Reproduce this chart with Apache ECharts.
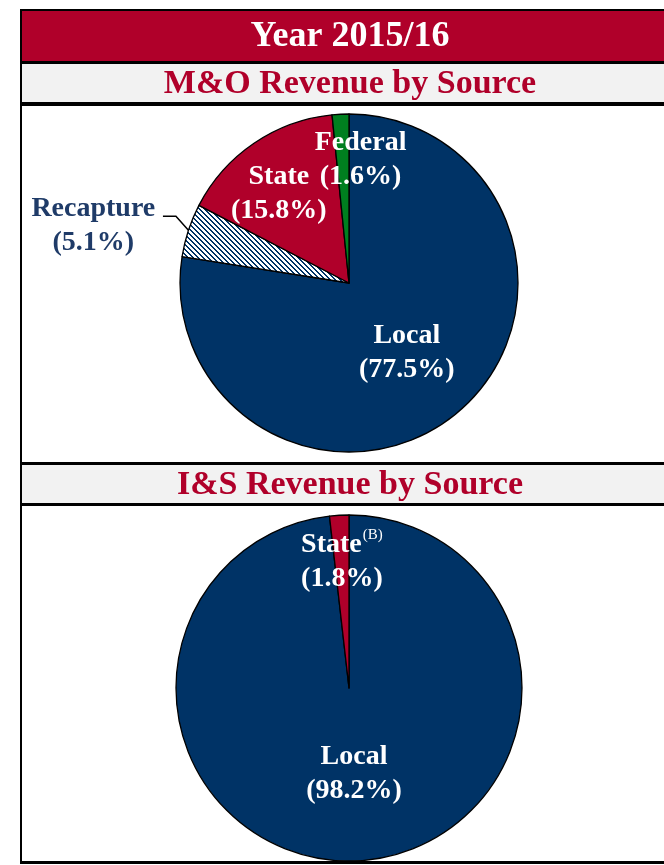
<!DOCTYPE html>
<html>
<head>
<meta charset="utf-8">
<script src="https://cdn.jsdelivr.net/npm/echarts@6/dist/echarts.min.js"></script>
<style>
  html, body { margin: 0; padding: 0; background: #fff; }
  #chart { width: 664px; height: 865px; }
</style>
</head>
<body>
<div id="chart"></div>
<script>
// M&O revenue by source, percent (clockwise from 12 o'clock)
const moNames = ['Local', 'Recapture', 'State', 'Federal'];
const moValues = [77.5, 5.1, 15.8, 1.6];
// I&S revenue by source, percent
const isNames = ['Local', 'State'];
const isValues = [98.2, 1.8];

const yearTitle = 'Year 2015/16';
const moTitle = 'M&O Revenue by Source';
const isTitle = 'I&S Revenue by Source';

const NAVY = '#003366';
const RED = '#B0002A';
const GREEN = '#007F1F';
const SERIF = '"Liberation Serif", "DejaVu Serif", serif';

// label nudges from the default spot, per series / data index
const labelShift = [
  [[1, 3], [4, 1], [-21, -17], [16, -36]],
  [[0, -4], [-2, -37]]
];

// white + navy diagonal stripes for recapture
function hatch() {
  const n = 5;
  const c = document.createElement('canvas');
  c.width = n; c.height = n;
  const ctx = c.getContext('2d');
  ctx.fillStyle = '#fff';
  ctx.fillRect(0, 0, n, n);
  ctx.fillStyle = NAVY;
  for (let y = 0; y < n; y++) {
    for (let x = 0; x < n; x++) {
      if ((x - y + n) % n < 2) ctx.fillRect(x, y, 1, 1);
    }
  }
  return c;
}

const sliceColor = {
  Local: NAVY,
  State: RED,
  Federal: GREEN,
  Recapture: { image: hatch(), repeat: 'repeat' }
};

const insideLabel = {
  position: 'inside',
  color: '#fff',
  fontFamily: SERIF,
  fontWeight: 'bold',
  fontSize: 28,
  lineHeight: 34
};

const moData = moNames.map((name, i) => {
  const item = { name: name, value: moValues[i], itemStyle: { color: sliceColor[name] } };
  if (name === 'Recapture') {
    item.label = {
      position: 'outside',
      formatter: '{r|' + name + '}\n{r|(' + moValues[i].toFixed(1) + '%)}',
      rich: {
        r: { width: 126, align: 'center', color: '#1F3B68', fontFamily: SERIF, fontWeight: 'bold', fontSize: 28, lineHeight: 34 }
      }
    };
    item.labelLine = { show: true, length: 18, length2: 14, lineStyle: { color: '#000', width: 1.5 } };
  } else {
    item.label = Object.assign({}, insideLabel, {
      formatter: name + '\n(' + moValues[i].toFixed(1) + '%)'
    });
  }
  return item;
});

const isData = isNames.map((name, i) => {
  const item = { name: name, value: isValues[i], itemStyle: { color: sliceColor[name] } };
  if (name === 'State') {
    item.label = Object.assign({}, insideLabel, {
      formatter: '{t|' + name + '}{s|(B)}\n{t|(' + isValues[i].toFixed(1) + '%)}',
      rich: {
        t: { color: '#fff', fontFamily: SERIF, fontWeight: 'bold', fontSize: 28, lineHeight: 34 },
        s: { color: '#fff', fontFamily: SERIF, fontWeight: 'normal', fontSize: 15, lineHeight: 34, verticalAlign: 'top', padding: [0, 0, 12, 1] }
      }
    });
  } else {
    item.label = Object.assign({}, insideLabel, {
      formatter: name + '\n(' + isValues[i].toFixed(1) + '%)'
    });
  }
  return item;
});

function band(y, h, fill) {
  return { type: 'rect', z: 0, shape: { x: 22, y: y, width: 700, height: h }, style: { fill: fill } };
}
function heading(text, y, color, size) {
  return {
    type: 'text', z: 1, x: 350, y: y,
    style: { text: text, fill: color, font: 'bold ' + size + 'px ' + SERIF, align: 'center', verticalAlign: 'middle' }
  };
}

// leader line: steep rise off the slice edge, then a short flat run
function moLabelLayout(p) {
  const s = labelShift[0][p.dataIndex];
  const out = { dx: s[0], dy: s[1] };
  const pts = p.labelLinePoints;
  if (pts && moNames[p.dataIndex] === 'Recapture') {
    const a = pts[0];
    const b = [a[0] - 12.5, a[1] - 14];
    out.labelLinePoints = [a, b, [b[0] - 13, b[1]]];
  }
  return out;
}

const option = {
  backgroundColor: '#fff',
  animation: false,
  graphic: [
    { type: 'rect', z: 0, shape: { x: 20, y: 9, width: 720, height: 855 }, style: { fill: '#000' } },
    band(11, 50, RED),
    band(64, 38, '#F2F2F2'),
    band(106, 356, '#fff'),
    band(465, 38, '#F2F2F2'),
    band(506, 355, '#fff'),
    heading(yearTitle, 37, '#fff', 36),
    heading(moTitle, 84, RED, 34),
    heading(isTitle, 485, RED, 34)
  ],
  series: [
    {
      name: 'M&O',
      type: 'pie',
      center: [349, 283],
      radius: 169,
      startAngle: 90,
      clockwise: true,
      avoidLabelOverlap: false,
      itemStyle: { borderColor: '#000', borderWidth: 1.3 },
      emphasis: { disabled: true },
      labelLine: { show: false },
      labelLayout: moLabelLayout,
      data: moData
    },
    {
      name: 'I&S',
      type: 'pie',
      center: [349, 688],
      radius: 173,
      startAngle: 90,
      clockwise: true,
      avoidLabelOverlap: false,
      itemStyle: { borderColor: '#000', borderWidth: 1.3 },
      emphasis: { disabled: true },
      labelLine: { show: false },
      labelLayout: function (p) {
        const s = labelShift[1][p.dataIndex];
        return { dx: s[0], dy: s[1] };
      },
      data: isData
    }
  ]
};

const chart = echarts.init(document.getElementById('chart'), null, { renderer: 'canvas' });
chart.setOption(option);
</script>
</body>
</html>
